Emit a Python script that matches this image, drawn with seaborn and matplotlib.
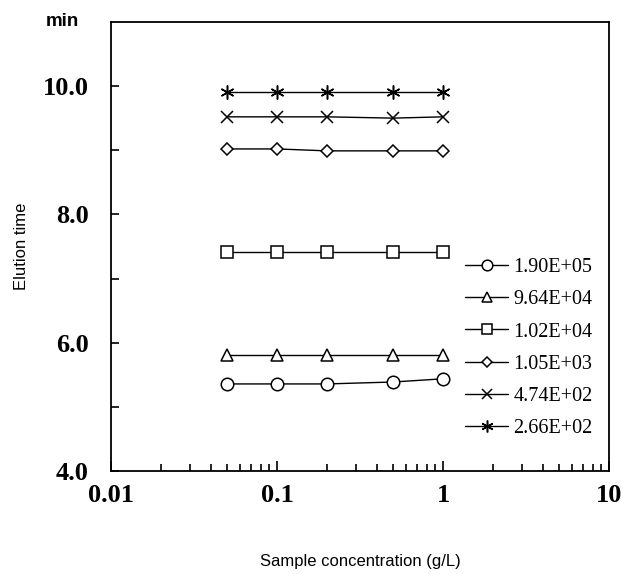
import matplotlib
matplotlib.use("Agg")
import matplotlib.pyplot as plt
import matplotlib.ticker as mticker
import numpy as np
import pandas as pd
import seaborn as sns

# Sample concentrations (g/L)
concentration = [0.05, 0.1, 0.2, 0.5, 1.0]

# Molecular weight standards (legend labels)
standards = ["1.90E+05", "9.64E+04", "1.02E+04", "1.05E+03", "4.74E+02", "2.66E+02"]

# Elution time (min) of each standard at each concentration
elution_190e5 = [5.36, 5.36, 5.36, 5.39, 5.44]
elution_964e4 = [5.81, 5.81, 5.81, 5.81, 5.81]
elution_102e4 = [7.41, 7.41, 7.41, 7.41, 7.41]
elution_105e3 = [9.02, 9.02, 8.99, 8.99, 8.99]
elution_474e2 = [9.52, 9.52, 9.52, 9.50, 9.52]
elution_266e2 = [9.91, 9.91, 9.91, 9.91, 9.91]

series = [elution_190e5, elution_964e4, elution_102e4,
          elution_105e3, elution_474e2, elution_266e2]

rows = []
for name, vals in zip(standards, series):
    for c, t in zip(concentration, vals):
        rows.append({"conc": c, "time": t, "standard": name})
df = pd.DataFrame(rows)

sns.set_theme(style="white")
plt.rcParams["font.family"] = ["Liberation Sans", "DejaVu Sans"]
plt.rcParams["text.color"] = "black"
plt.rcParams["axes.labelcolor"] = "black"
plt.rcParams["xtick.color"] = "black"
plt.rcParams["ytick.color"] = "black"

fig = plt.figure(figsize=(6.24, 5.74), dpi=100)
ax = fig.add_axes([0.178, 0.179, 0.798, 0.783])

markers = {"1.90E+05": "o", "9.64E+04": "^", "1.02E+04": "s",
           "1.05E+03": "D", "4.74E+02": "x", "2.66E+02": (6, 2, 0)}
sizes = {"1.90E+05": 9, "9.64E+04": 9, "1.02E+04": 8.5,
         "1.05E+03": 6.5, "4.74E+02": 9, "2.66E+02": 10}

for name in standards:
    sub = df[df["standard"] == name]
    sns.lineplot(data=sub, x="conc", y="time", ax=ax, color="black",
                 linewidth=1.0, marker=markers[name], markersize=sizes[name],
                 markerfacecolor="white", markeredgecolor="black",
                 markeredgewidth=1.1, label=name, legend=False)

ax.set_xscale("log")
ax.set_xlim(0.01, 10)
ax.set_ylim(4, 11)

ax.xaxis.set_major_locator(mticker.FixedLocator([0.01, 0.1, 1, 10]))
ax.xaxis.set_major_formatter(mticker.FixedFormatter(["0.01", "0.1", "1", "10"]))
ax.xaxis.set_minor_locator(mticker.LogLocator(base=10, subs=np.arange(2, 10)))
ax.xaxis.set_minor_formatter(mticker.NullFormatter())

yt = [4, 5, 6, 7, 8, 9, 10]
ax.yaxis.set_major_locator(mticker.FixedLocator(yt))
ax.yaxis.set_major_formatter(mticker.FixedFormatter(
    [f"{v:.1f}" if v % 2 == 0 else "" for v in yt]))

for side in ["top", "right", "left", "bottom"]:
    ax.spines[side].set_visible(True)
    ax.spines[side].set_color("black")
    ax.spines[side].set_linewidth(1.3)

ax.tick_params(axis="both", which="both", direction="in", color="black",
               labelcolor="black", width=1.2,
               bottom=True, left=True, top=False, right=False)
ax.tick_params(axis="y", which="major", length=6, pad=16)
ax.tick_params(axis="x", which="major", length=7, pad=9)
ax.tick_params(axis="x", which="minor", length=5)

for lbl in ax.get_xticklabels() + ax.get_yticklabels():
    lbl.set_fontfamily(["Liberation Serif", "DejaVu Serif"])
    lbl.set_fontweight("bold")
    lbl.set_fontsize(19)

ax.set_xlabel("Sample concentration (g/L)", fontsize=12, labelpad=34,
              color="black")
ax.set_ylabel("Elution time", fontsize=12, labelpad=10, color="black")

fig.text(62 / 624, 1 - 21 / 574, "min", fontsize=13.5, fontweight="bold",
         ha="center", va="center", color="black")

leg = ax.legend(loc="upper left", bbox_to_anchor=(457 / 624, 1 - 250 / 574),
                bbox_transform=fig.transFigure, frameon=False,
                prop={"family": ["Liberation Serif", "DejaVu Serif"], "size": 14.5},
                handlelength=2.15, handletextpad=0.25, labelspacing=0.65,
                borderaxespad=0)
for h in leg.legend_handles:
    h.set_markersize(h.get_markersize() * 0.85)
for t in leg.get_texts():
    t.set_color("black")

fig.savefig("out.png", dpi=100)
